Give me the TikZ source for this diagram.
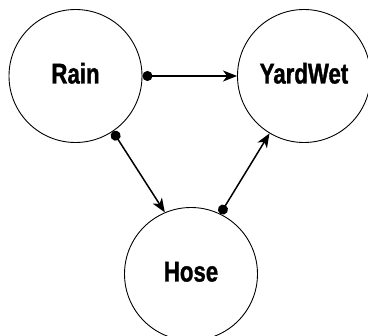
\documentclass[tikz,border=0pt]{standalone}
\usepackage{fontspec}
\newfontfamily\labfont{Liberation Sans}[FakeStretch=0.78,BoldFeatures={FakeBold=1.2}]
\usetikzlibrary{arrows.meta}
\begin{document}
\begin{tikzpicture}[x=1pt,y=-1pt,
  var/.style={circle,draw,line width=0.9pt,minimum size=133pt,inner sep=0pt,
    font=\labfont\bfseries\fontsize{28.5}{30}\selectfont,text height=20pt,text depth=5pt},
  link/.style={line width=1.5pt,{Circle[length=10pt]}-{Stealth[length=14pt,width=11pt,inset=4pt]}}]
\useasboundingbox (0,0) rectangle (368,336);
\node[var] (rain) at (75.5,76) {Rain};
\node[var] (yard) at (304,76) {YardWet};
\node[var] (hose) at (191,274) {Hose};
\draw[link] (rain.east) -- (yard.west);
\draw[link] (rain.-56) -- (hose.113.7);
\draw[link] (hose.64.4) -- (yard.239.3);
\end{tikzpicture}
\end{document}
